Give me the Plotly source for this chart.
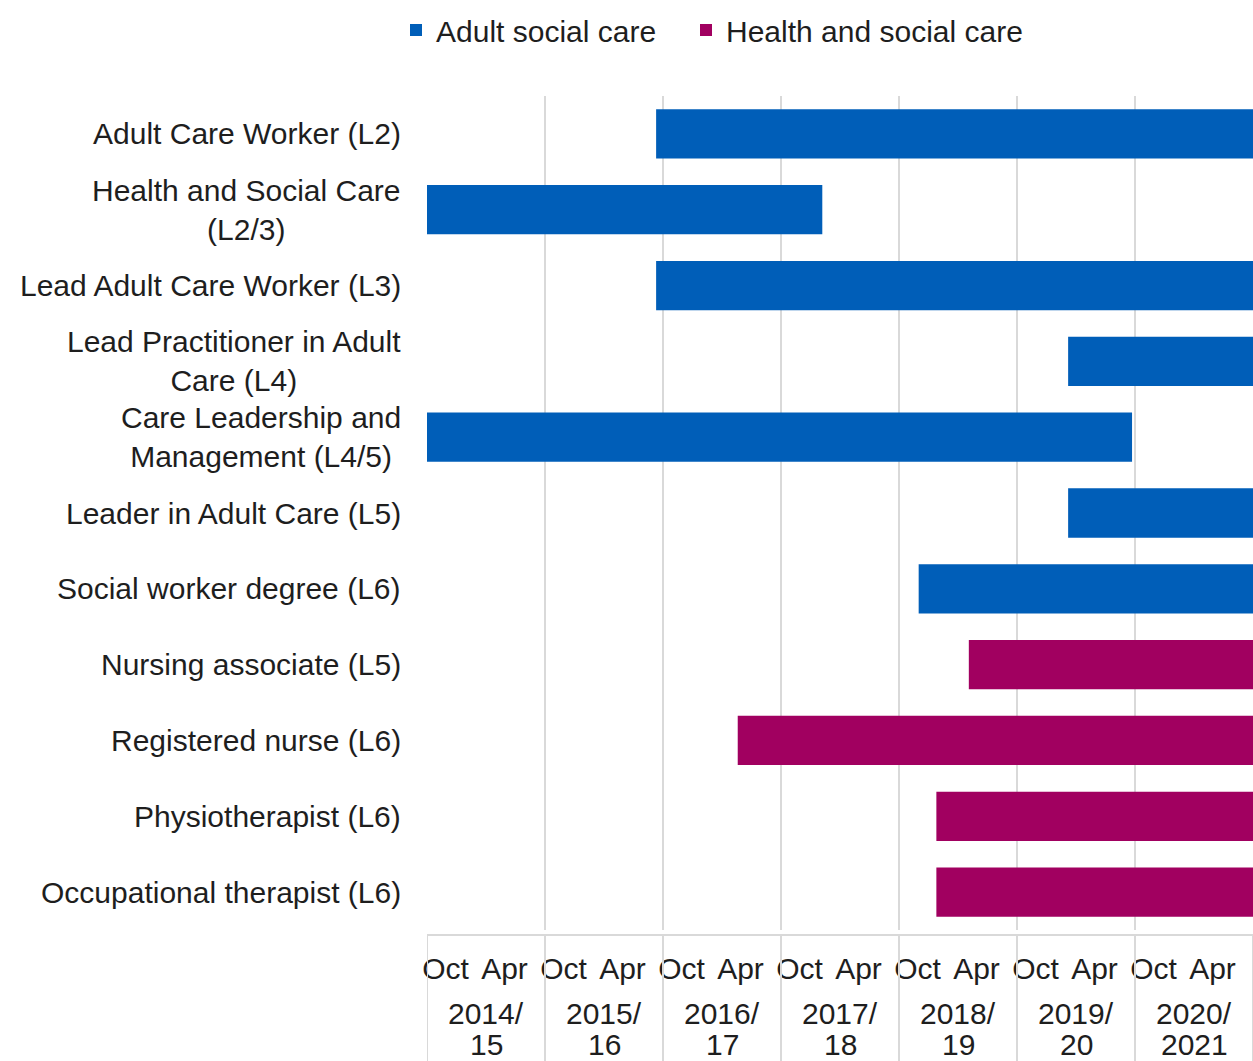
import plotly.graph_objects as go

# Qualifications on the chart, top to bottom
qualifications = [
    "Adult Care Worker (L2)",
    "Health and Social Care<br>(L2/3)",
    "Lead Adult Care Worker (L3)",
    "Lead Practitioner in Adult<br>Care (L4)",
    "Care Leadership and<br>Management (L4/5)",
    "Leader in Adult Care (L5)",
    "Social worker degree (L6)",
    "Nursing associate (L5)",
    "Registered nurse (L6)",
    "Physiotherapist (L6)",
    "Occupational therapist (L6)",
]
sector = [
    "Adult social care", "Adult social care", "Adult social care",
    "Adult social care", "Adult social care", "Adult social care",
    "Adult social care",
    "Health and social care", "Health and social care",
    "Health and social care", "Health and social care",
]
# Months from the start of 2014/15 at which each apprenticeship was available
start_month = [23.3, 0.0, 23.3, 65.2, 0.0, 65.2, 50.0, 55.1, 31.6, 51.8, 51.8]
end_month = [84.0, 40.2, 84.0, 84.0, 71.7, 84.0, 84.0, 84.0, 84.0, 84.0, 84.0]

# Financial year group labels, split over two lines
fy_line1 = ["2014/", "2015/", "2016/", "2017/", "2018/", "2019/", "2020/"]
fy_line2 = ["15", "16", "17", "18", "19", "20", "2021"]
half_year_labels = ["Oct", "Apr"]

colours = {"Adult social care": "#005EB8", "Health and social care": "#A10060"}
FONT = "Liberation Sans, Arial, sans-serif"
TEXT = "#1e1e1e"
GRID = "#d9d9d9"
FS = 30

fig = go.Figure()
legend_ids = {"Adult social care": "legend", "Health and social care": "legend2"}
for name in ["Adult social care", "Health and social care"]:
    idx = [i for i, s in enumerate(sector) if s == name]
    fig.add_trace(go.Bar(
        name=name,
        orientation="h",
        y=[qualifications[i] for i in idx],
        base=[start_month[i] for i in idx],
        x=[end_month[i] - start_month[i] for i in idx],
        marker=dict(color=colours[name], line=dict(width=0)),
        legend=legend_ids[name],
        hoverinfo="skip",
    ))

n_years = len(fy_line1)
span = 12 * n_years
tickvals, ticktext = [], []
for k in range(n_years):
    for j, lab in enumerate(half_year_labels):
        tickvals.append(12 * k + 3 + 6 * j)
        ticktext.append(lab)

annotations = []
for q in qualifications:
    annotations.append(dict(
        x=0, xref="paper", y=q, yref="y", xanchor="right", yanchor="middle",
        xshift=-24, text=q, align="center", showarrow=False,
        font=dict(family=FONT, size=FS, color=TEXT),
    ))
for k in range(n_years):
    for line, shift in ((fy_line1[k], -65), (fy_line2[k], -96)):
        annotations.append(dict(
            x=12 * k + 6, xref="x", y=0, yref="paper", xanchor="center",
            yanchor="top", yshift=shift, text=line, showarrow=False,
            font=dict(family=FONT, size=FS, color=TEXT),
        ))

shapes = [dict(type="line", xref="x", x0=0, x1=span, yref="paper",
               ysizemode="pixel", yanchor=0, y0=-5, y1=-5,
               line=dict(color=GRID, width=2))]
for k in range(n_years + 1):
    shapes.append(dict(type="line", xref="x", x0=12 * k, x1=12 * k,
                       yref="paper", ysizemode="pixel", yanchor=0,
                       y0=-5, y1=-200, line=dict(color=GRID, width=2)))

legend_common = dict(orientation="h", xref="container", yref="container",
                     y=1 - 4 / 1061, xanchor="left", yanchor="top",
                     font=dict(family=FONT, size=FS, color=TEXT),
                     bgcolor="rgba(0,0,0,0)")

fig.update_layout(
    width=1253, height=1061,
    margin=dict(l=427, r=0, t=96, b=131),
    paper_bgcolor="white", plot_bgcolor="white",
    barmode="overlay", bargap=0.35,
    font=dict(family=FONT, size=FS, color=TEXT),
    showlegend=True,
    legend=dict(x=396 / 1253, **legend_common),
    legend2=dict(x=686 / 1253, **legend_common),
    xaxis=dict(range=[0, span], showgrid=False, zeroline=False,
               tickmode="array", tickvals=tickvals, ticktext=ticktext,
               ticks="", ticklabelstandoff=18, ticklabelshift=-11,
               tickfont=dict(family=FONT, size=FS, color=TEXT),
               minor=dict(tickmode="linear", tick0=0, dtick=12,
                          showgrid=True, gridcolor=GRID, gridwidth=2)),
    yaxis=dict(autorange="reversed", showticklabels=False, showgrid=False,
               zeroline=False, categoryorder="array",
               categoryarray=qualifications),
    annotations=annotations,
    shapes=shapes,
)

fig.write_html("out.html")
